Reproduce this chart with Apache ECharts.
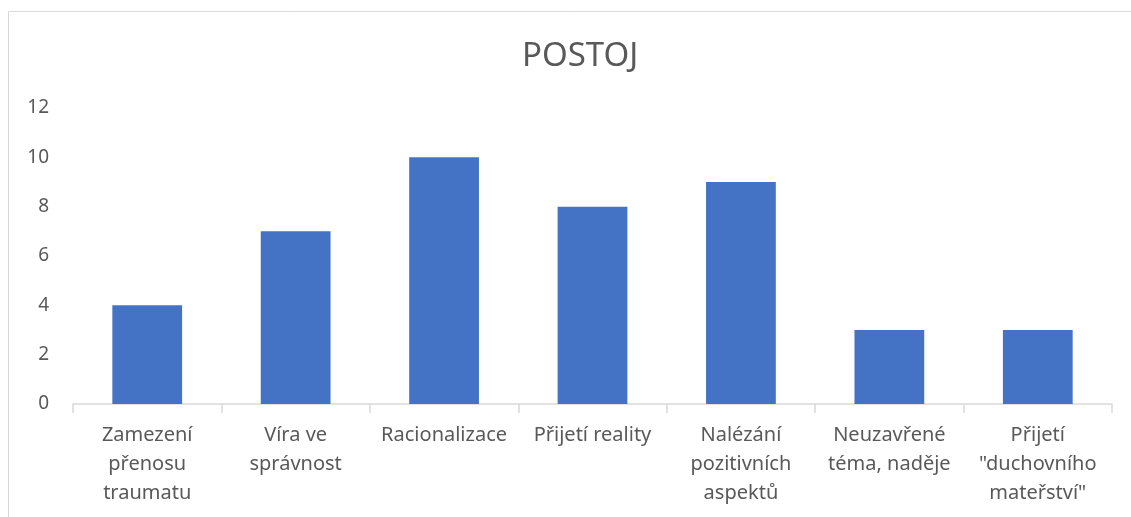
<!DOCTYPE html>
<html><head><meta charset="utf-8">
<script src="https://cdn.jsdelivr.net/npm/echarts@6/dist/echarts.min.js"></script>
<style>html,body{margin:0;padding:0;background:#fff}#c{width:1131px;height:517px}</style>
</head><body><div id="c"></div>
<script>
const titleText = 'POSTOJ';
const categories = ['Zamezení\npřenosu\ntraumatu', 'Víra ve\nsprávnost', 'Racionalizace', 'Přijetí reality', 'Nalézání\npozitivních\naspektů', 'Neuzavřené\ntéma, naděje', 'Přijetí\n"duchovního\nmateřství"'];
const values = [4, 7, 10, 8, 9, 3, 3];
const yTicks = {min: 0, max: 12, interval: 2};

const chart = echarts.init(document.getElementById('c'));
chart.setOption({
  animation: false,
  textStyle: {fontFamily: 'Noto Sans'},
  title: {text: titleText, left: 517, top: 35, textStyle: {fontFamily: 'Noto Sans', fontSize: 33, fontWeight: 'normal', color: '#595959'}},
  graphic: [{type: 'rect', shape: {x: 8.5, y: 11.5, width: 1130, height: 520}, style: {fill: 'none', stroke: '#d9d9d9', lineWidth: 1}, silent: true}],
  grid: {left: 73, right: 19, top: 108, bottom: 113},
  xAxis: {type: 'category', data: categories,
    axisLine: {lineStyle: {color: '#d9d9d9', width: 1.5}},
    axisTick: {show: true, length: 9, lineStyle: {color: '#d9d9d9', width: 1.5}},
    axisLabel: {color: '#595959', fontSize: 20, lineHeight: 29, margin: 17, interval: 0}},
  yAxis: {type: 'value', min: yTicks.min, max: yTicks.max, interval: yTicks.interval,
    splitLine: {show: false}, axisLine: {show: false}, axisTick: {show: false},
    axisLabel: {color: '#595959', fontSize: 19, margin: 24}},
  series: [{type: 'bar', data: values, barWidth: '47%', itemStyle: {color: '#4472C4'}}]
});
</script></body></html>
